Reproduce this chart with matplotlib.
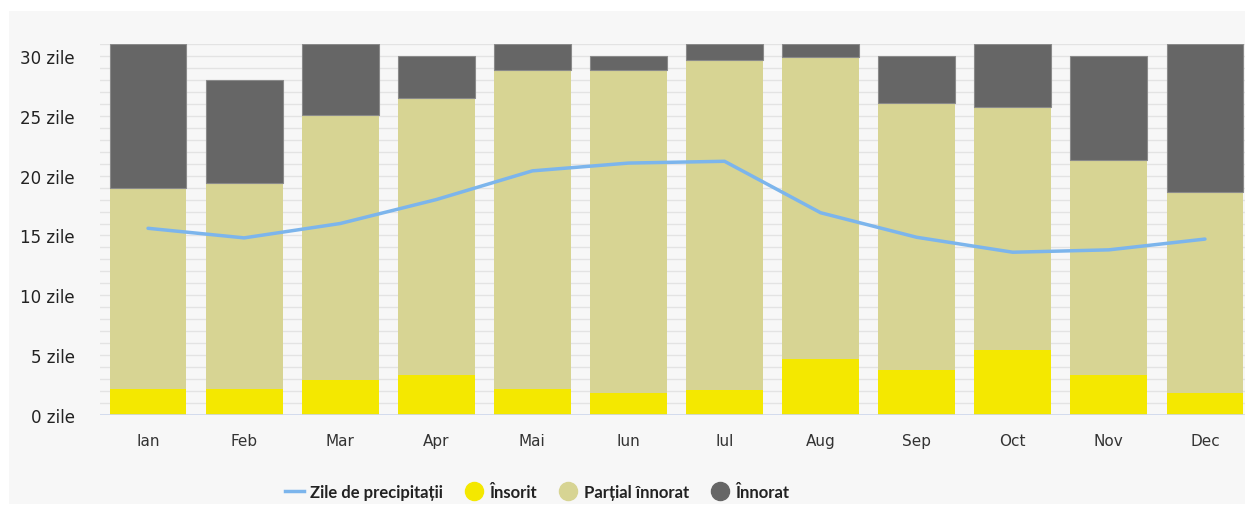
import matplotlib
matplotlib.use("Agg")
import matplotlib.pyplot as plt
from matplotlib.lines import Line2D
from matplotlib.patches import Rectangle
import numpy as np

months = ["Ian", "Feb", "Mar", "Apr", "Mai", "Iun", "Iul", "Aug", "Sep", "Oct", "Nov", "Dec"]
sunny = [2.2, 2.2, 2.9, 3.35, 2.2, 1.85, 2.1, 4.7, 3.75, 5.4, 3.35, 1.85]
partly_top = [19.0, 19.4, 25.1, 26.5, 28.8, 28.8, 29.7, 29.9, 26.1, 25.7, 21.3, 18.6]
total_days = [31, 28, 31, 30, 31, 30, 31, 31, 30, 31, 30, 31]
precip_days = [15.6, 14.8, 16.0, 18.0, 20.4, 21.05, 21.2, 16.9, 14.85, 13.6, 13.8, 14.7]
yticks = [0, 5, 10, 15, 20, 25, 30]
ytick_labels = [f"{v} zile" for v in yticks]

partly = [p - s for p, s in zip(partly_top, sunny)]
overcast = [t - p for t, p in zip(total_days, partly_top)]

c_sun = "#f4e800"
c_part = "#d7d493"
c_over = "#666666"
c_line = "#7cb5ec"

W, H = 1245, 506
fig = plt.figure(figsize=(W / 100, H / 100), dpi=100, facecolor="white")
bg = Rectangle((9 / W, 1 / H), 1 - 9 / W, (505 - 12) / H,
               transform=fig.transFigure, facecolor="#f7f7f7",
               edgecolor="none", zorder=-10)
fig.patches.append(bg)

ax = fig.add_axes([100 / W, 90 / H, 1153 / W, 371 / H])
ax.set_zorder(1)
ax.set_facecolor("#f7f7f7")
x = np.arange(len(months))
bw = 0.8
ax.bar(x, sunny, width=bw, color=c_sun, edgecolor="none", zorder=3)
ax.bar(x, partly, width=bw, bottom=sunny, color=c_part, edgecolor="none", zorder=3)
ax.bar(x, overcast, width=bw, bottom=partly_top, color=c_over, edgecolor="#8a8a8a",
       linewidth=0.8, zorder=3)
ax.plot(x, precip_days, color=c_line, linewidth=2.5, zorder=4, solid_capstyle="round")

ax.set_xlim(-0.5, 11.5)
ax.set_ylim(0, 31)
for yv in np.arange(1, 32, 1):
    ax.axhline(yv, color="#e3e3e3", linewidth=1, zorder=1)
ax.axhline(0, color="#ccd6eb", linewidth=1.2, zorder=5)

for s in ax.spines.values():
    s.set_visible(False)

ax.set_xticks(x)
ax.set_xticklabels(months, fontsize=11, color="#333333")
ax.set_yticks(yticks)
ax.set_yticklabels(ytick_labels, fontsize=12, color="#222222")
ax.tick_params(axis="x", length=0, pad=13)
ax.tick_params(axis="y", length=0, pad=18)

handles = [
    Line2D([0], [0], color=c_line, linewidth=2.5),
    Line2D([0], [0], marker="o", linestyle="none", markerfacecolor=c_sun,
           markeredgecolor=c_sun, markersize=13),
    Line2D([0], [0], marker="o", linestyle="none", markerfacecolor=c_part,
           markeredgecolor=c_part, markersize=13),
    Line2D([0], [0], marker="o", linestyle="none", markerfacecolor=c_over,
           markeredgecolor=c_over, markersize=13),
]
labels = ["Zile de precipitații", "Însorit", "Parțial înnorat", "Înnorat"]
leg = fig.legend(handles, labels, loc="center", bbox_to_anchor=(537 / W, 1 - 493 / H),
                 ncol=4, frameon=False, handlelength=1.15, handletextpad=0.35,
                 columnspacing=1.3,
                 prop={"family": ["Lato", "DejaVu Sans"],
                       "weight": "bold", "size": 12})
for t in leg.get_texts():
    t.set_color("#222222")

fig.savefig("out.png", dpi=100, facecolor="white")
